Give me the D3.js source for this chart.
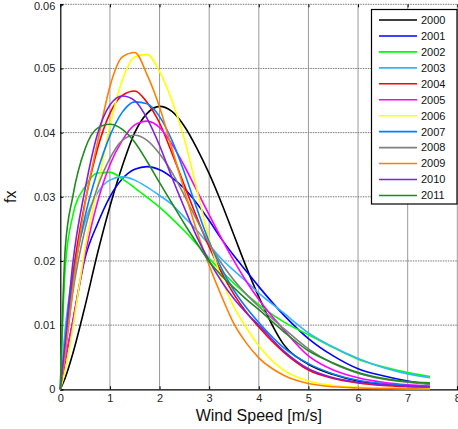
<!DOCTYPE html>
<html>
<head>
<meta charset="utf-8">
<script src="https://cdn.jsdelivr.net/npm/d3@7"></script>
<style>
  body { margin: 0; background: #fff; }
  svg { display: block; font-family: 'Liberation Sans', Arial, sans-serif; }
</style>
</head>
<body>
<svg id="grafico"></svg>
<script>
var anos = ['2000', '2001', '2002', '2003', '2004', '2005', '2006', '2007', '2008', '2009', '2010', '2011'];
var ventos = [0, 0.1, 0.25, 0.5, 0.75, 1, 1.25, 1.5, 1.75, 2, 2.25, 2.5, 2.75, 3, 3.25, 3.5, 3.75, 4, 4.5, 5, 5.5, 6, 6.5, 7, 7.45];

var fx2000 = [0, 0.0018, 0.0055, 0.0130, 0.0212, 0.0285, 0.0348, 0.0400, 0.0430, 0.0441, 0.0433, 0.0410, 0.0376, 0.0336, 0.0290, 0.0240, 0.0190, 0.0144, 0.0070, 0.0039, 0.0023, 0.0013, 0.0008, 0.0005, 0.0004];
var fx2001 = [0, 0.0045, 0.0105, 0.0205, 0.0258, 0.0300, 0.0328, 0.0343, 0.0347, 0.0342, 0.0330, 0.0313, 0.0290, 0.0263, 0.0234, 0.0208, 0.0184, 0.0160, 0.0116, 0.0079, 0.0052, 0.0032, 0.0021, 0.0013, 0.0008];
var fx2002 = [0, 0.0190, 0.0270, 0.0316, 0.0337, 0.0338, 0.0328, 0.0314, 0.0299, 0.0284, 0.0266, 0.0247, 0.0226, 0.0204, 0.0184, 0.0165, 0.0148, 0.0132, 0.0105, 0.0085, 0.0065, 0.0047, 0.0035, 0.0026, 0.0020];
var fx2003 = [0, 0.0095, 0.0180, 0.0262, 0.0306, 0.0326, 0.0331, 0.0326, 0.0315, 0.0302, 0.0288, 0.0268, 0.0248, 0.0225, 0.0203, 0.0185, 0.0168, 0.0150, 0.0119, 0.0088, 0.0066, 0.0048, 0.0034, 0.0024, 0.0018];
var fx2004 = [0, 0.0065, 0.0175, 0.0292, 0.0375, 0.0430, 0.0458, 0.0465, 0.0447, 0.0415, 0.0368, 0.0318, 0.0268, 0.0222, 0.0182, 0.0148, 0.0120, 0.0097, 0.0058, 0.0030, 0.0017, 0.0010, 0.0006, 0.0004, 0.0003];
var fx2005 = [0, 0.0045, 0.0105, 0.0210, 0.0292, 0.0350, 0.0388, 0.0412, 0.0418, 0.0408, 0.0382, 0.0348, 0.0310, 0.0272, 0.0235, 0.0200, 0.0168, 0.0140, 0.0093, 0.0052, 0.0030, 0.0018, 0.0011, 0.0007, 0.0005];
var fx2006 = [0, 0.0030, 0.0095, 0.0220, 0.0315, 0.0410, 0.0482, 0.0518, 0.0522, 0.0495, 0.0450, 0.0390, 0.0312, 0.0234, 0.0172, 0.0128, 0.0096, 0.0068, 0.0030, 0.0013, 0.0006, 0.0003, 0.0002, 0.0001, 0.0001];
var fx2007 = [0, 0.0060, 0.0165, 0.0270, 0.0340, 0.0395, 0.0432, 0.0448, 0.0445, 0.0425, 0.0388, 0.0338, 0.0282, 0.0230, 0.0188, 0.0154, 0.0127, 0.0104, 0.0065, 0.0040, 0.0024, 0.0014, 0.0009, 0.0006, 0.0004];
var fx2008 = [0, 0.0060, 0.0150, 0.0250, 0.0315, 0.0360, 0.0388, 0.0396, 0.0388, 0.0367, 0.0338, 0.0302, 0.0264, 0.0227, 0.0196, 0.0170, 0.0148, 0.0129, 0.0095, 0.0063, 0.0040, 0.0025, 0.0016, 0.0011, 0.0008];
var fx2009 = [0, 0.0055, 0.0155, 0.0290, 0.0385, 0.0472, 0.0518, 0.0525, 0.0490, 0.0440, 0.0375, 0.0310, 0.0247, 0.0193, 0.0145, 0.0102, 0.0072, 0.0049, 0.0022, 0.0009, 0.0004, 0.0002, 0.0001, 0.0001, 0.0000];
var fx2010 = [0, 0.0075, 0.0195, 0.0312, 0.0398, 0.0443, 0.0457, 0.0450, 0.0422, 0.0380, 0.0330, 0.0283, 0.0238, 0.0200, 0.0168, 0.0141, 0.0119, 0.0100, 0.0060, 0.0032, 0.0018, 0.0011, 0.0007, 0.0005, 0.0004];
var fx2011 = [0, 0.0220, 0.0300, 0.0375, 0.0407, 0.0413, 0.0405, 0.0385, 0.0355, 0.0322, 0.0290, 0.0258, 0.0228, 0.0199, 0.0177, 0.0158, 0.0140, 0.0124, 0.0090, 0.0060, 0.0041, 0.0026, 0.0017, 0.0012, 0.0010];

var series = [fx2000, fx2001, fx2002, fx2003, fx2004, fx2005, fx2006, fx2007, fx2008, fx2009, fx2010, fx2011];
var cores = ['#000000', '#0000ff', '#00ff00', '#33b5ff', '#ff0000', '#ff00ff', '#ffff00', '#0080ff', '#808080', '#ff8000', '#8020e0', '#1f8a1f'];
var ticksX = [0, 1, 2, 3, 4, 5, 6, 7, 8];
var ticksY = [0, 0.01, 0.02, 0.03, 0.04, 0.05, 0.06];

var largura = 458, altura = 429;
var svg = d3.select('#grafico')
            .attr('width', largura)
            .attr('height', altura);

var margem = { esquerda: 60.3, direita: 0.7, superior: 4.3, inferior: 39.7 };

var x = d3.scaleLinear()
          .domain([0, 8])
          .range([margem.esquerda, largura - margem.direita]);
var y = d3.scaleLinear()
          .domain([0, 0.06])
          .range([altura - margem.inferior, margem.superior]);

// grade
svg.append('g').selectAll('line')
   .data(ticksX.slice(1))
   .enter().append('line')
     .attr('x1', d => x(d)).attr('x2', d => x(d))
     .attr('y1', y(0)).attr('y2', y(0.06))
     .attr('stroke', '#9a9a9a')
     .attr('stroke-width', 1);
svg.append('g').selectAll('line')
   .data(ticksY.slice(1))
   .enter().append('line')
     .attr('x1', x(0)).attr('x2', x(8))
     .attr('y1', d => y(d)).attr('y2', d => y(d))
     .attr('stroke', '#777')
     .attr('stroke-width', 1)
     .attr('stroke-dasharray', '1.5,1');

// eixos
var eixoX = d3.axisBottom(x).tickValues(ticksX).tickSize(-3).tickPadding(5).tickFormat(d3.format('d'));
svg.append('g')
   .attr('id', 'eixoX')
   .attr('transform', 'translate(0,' + y(0) + ')')
   .call(eixoX);
var eixoXTopo = d3.axisTop(x).tickValues(ticksX).tickSize(-3).tickFormat('');
svg.append('g')
   .attr('transform', 'translate(0,' + y(0.06) + ')')
   .call(eixoXTopo)
   .call(g => g.select('.domain').remove());
var eixoY = d3.axisLeft(y).tickValues(ticksY).tickSize(-3).tickPadding(5).tickFormat(d => d === 0 ? '0' : d3.format('.2f')(d));
svg.append('g')
   .attr('id', 'eixoY')
   .attr('transform', 'translate(' + x(0) + ',0)')
   .call(eixoY);

svg.selectAll('.tick text')
   .attr('font-size', 11)
   .attr('font-family', "'Liberation Sans', Arial, sans-serif")
   .attr('fill', '#222');
svg.selectAll('#eixoY .tick text')
   .filter(d => d === 0.06)
   .attr('dy', '0.45em');
svg.selectAll('.domain').attr('stroke', '#000').attr('stroke-width', 1.2);
svg.selectAll('.tick line').attr('stroke', '#000');

// curvas
var linha = d3.line()
              .x((d, i) => x(ventos[i]))
              .y(d => y(d))
              .curve(d3.curveMonotoneX);

svg.append('g').selectAll('.curva')
   .data(series)
   .enter().append('path')
     .classed('curva', true)
     .attr('d', d => linha(d))
     .attr('fill', 'none')
     .attr('stroke', (d, i) => cores[i])
     .attr('stroke-width', 1.6);

// legenda
var legenda = svg.append('g').attr('transform', 'translate(371.5,9.5)');
legenda.append('rect')
       .attr('width', 85.5)
       .attr('height', 194.5)
       .attr('fill', '#fff')
       .attr('stroke', '#000')
       .attr('stroke-width', 1.2);
var itens = legenda.selectAll('.item')
   .data(anos)
   .enter().append('g')
     .classed('item', true)
     .attr('transform', (d, i) => 'translate(0,' + (10.5 + i * 15.95) + ')');
itens.append('line')
     .attr('x1', 7.5).attr('x2', 45.5)
     .attr('stroke', (d, i) => cores[i])
     .attr('stroke-width', 1.6);
itens.append('text')
     .attr('x', 49.5)
     .attr('dy', '0.35em')
     .attr('font-size', 11)
     .attr('fill', '#111')
     .text(d => d);

// titulos
svg.append('text')
   .attr('x', (x(0) + x(8)) / 2)
   .attr('y', 421)
   .style('text-anchor', 'middle')
   .attr('font-size', 16)
   .attr('fill', '#111')
   .text('Wind Speed [m/s]');
svg.append('text')
   .attr('transform', 'translate(16,' + (y(0) + y(0.06)) / 2 + ') rotate(-90)')
   .style('text-anchor', 'middle')
   .attr('font-size', 16)
   .attr('fill', '#111')
   .text('fx');
</script>
</body>
</html>
